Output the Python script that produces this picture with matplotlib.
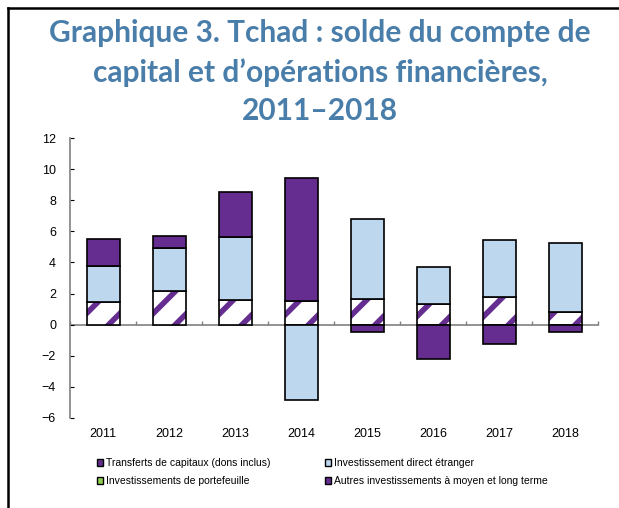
import numpy as np
import matplotlib.pyplot as plt
from matplotlib.patches import Patch
from matplotlib.lines import Line2D

years = ["2011", "2012", "2013", "2014", "2015", "2016", "2017", "2018"]
transferts = [1.48, 2.15, 1.61, 1.50, 1.67, 1.31, 1.76, 0.82]
ide = [2.29, 2.76, 4.01, -4.82, 5.10, 2.40, 3.66, 4.41]
portefeuille = [0, 0, 0, 0, 0, 0, 0, 0]
autres = [1.76, 0.77, 2.91, 7.91, -0.49, -2.18, -1.22, -0.49]

labels = ["Transferts de capitaux (dons inclus)", "Investissement direct étranger",
          "Investissements de portefeuille", "Autres investissements à moyen et long terme"]

PURPLE = "#662d91"
BLUE = "#bdd7ee"
GREEN = "#92d050"
GRAY = "#808080"

plt.rcParams["font.family"] = ["Liberation Sans", "DejaVu Sans"]
plt.rcParams["hatch.linewidth"] = 4.0

fig = plt.figure(figsize=(6.19, 5.08), dpi=100)
ax = fig.add_axes([0.1131, 0.1772, 0.853, 0.551])

x = np.arange(len(years)) + 1
width = 0.5
pos_base = np.zeros(len(years))
neg_base = np.zeros(len(years))

series = [(transferts, "hatch"), (ide, BLUE), (portefeuille, GREEN), (autres, PURPLE)]
for vals, style in series:
    vals = np.array(vals, dtype=float)
    bottom = np.where(vals >= 0, pos_base, neg_base)
    mask = vals != 0
    if style == "hatch":
        ax.bar(x[mask], vals[mask], width, bottom=bottom[mask], color="white",
               edgecolor=PURPLE, linewidth=0, hatch="/", zorder=2)
        ax.bar(x[mask], vals[mask], width, bottom=bottom[mask], fill=False,
               edgecolor="black", linewidth=1.2, zorder=3)
    else:
        ax.bar(x[mask], vals[mask], width, bottom=bottom[mask], color=style,
               edgecolor="black", linewidth=1.2, zorder=3)
    pos_base = pos_base + np.where(vals > 0, vals, 0)
    neg_base = neg_base + np.where(vals < 0, vals, 0)

ax.set_xlim(0.5, len(years) + 0.5)
ax.set_ylim(-6, 12)
ax.set_yticks(np.arange(-6, 13, 2))
ax.set_xticks(x)
ax.set_xticklabels(years)
ax.tick_params(axis="x", length=0, labelsize=9, pad=7)
ax.tick_params(axis="y", direction="in", length=3, color="black", labelsize=9, pad=10)

for s in ["top", "right", "bottom"]:
    ax.spines[s].set_visible(False)
ax.spines["left"].set_color(GRAY)
ax.spines["left"].set_linewidth(1.2)

# zero line with tick marks at category boundaries
zero_frac = (0 - ax.get_ylim()[0]) / (ax.get_ylim()[1] - ax.get_ylim()[0])
sec = ax.secondary_xaxis(zero_frac)
sec.set_xticks(np.arange(0.5, len(years) + 1, 1.0))
sec.tick_params(axis="x", direction="in", length=3, color=GRAY, width=1,
                labelbottom=False, labeltop=False)
sec.spines["bottom"].set_color(GRAY)
sec.spines["top"].set_color(GRAY)
sec.spines["bottom"].set_linewidth(1.2)
sec.spines["top"].set_linewidth(1.2)

handles = [
    Patch(facecolor=PURPLE, edgecolor="black", label=labels[0]),
    Patch(facecolor=GREEN, edgecolor="black", label=labels[2]),
    Patch(facecolor=BLUE, edgecolor="black", label=labels[1]),
    Patch(facecolor=PURPLE, edgecolor="black", label=labels[3]),
]
fig.legend(handles=handles, ncol=2, loc="upper left", bbox_to_anchor=(0.148, 0.108),
           frameon=False, fontsize=7.5, handlelength=0.6, handleheight=0.6,
           handletextpad=0.3, columnspacing=5.2, labelspacing=0.75, borderpad=0)

fig.text(0.517, 0.962, "Graphique 3. Tchad : solde du compte de\ncapital et d\u2019opérations financières,\n2011\u20132018",
         ha="center", va="top", fontsize=21.5, fontweight="bold", color="#4a7eaa",
         family=["Lato", "DejaVu Sans"], linespacing=1.45)

fig.add_artist(Line2D([8 / 619, 8 / 619], [0, 1 - 8 / 508], color="black", lw=1.8))
fig.add_artist(Line2D([8 / 619, 1], [1 - 8 / 508, 1 - 8 / 508], color="black", lw=1.8))

fig.savefig("out.png", dpi=100)
